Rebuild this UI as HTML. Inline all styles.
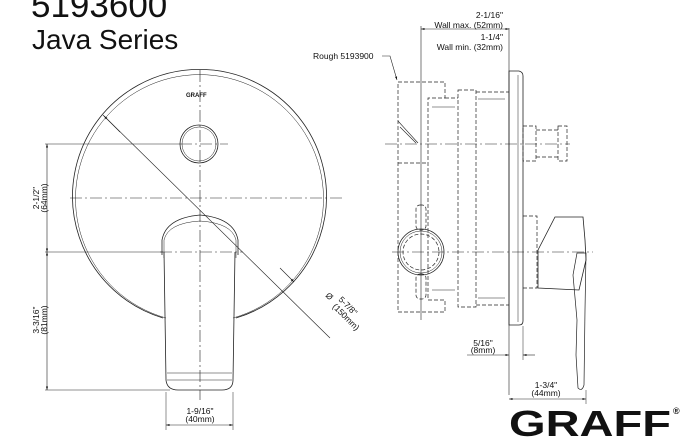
<!DOCTYPE html>
<html><head><meta charset="utf-8"><style>
html,body{margin:0;padding:0;background:#fff;width:700px;height:441px;overflow:hidden}
svg{display:block}
text{font-family:"Liberation Sans",Arial,sans-serif;fill:#111}
</style></head><body>
<svg width="700" height="441" viewBox="0 0 700 441" xmlns="http://www.w3.org/2000/svg">
<defs>
<marker id="a" viewBox="0 0 10 10" refX="10" refY="5" markerWidth="6" markerHeight="6" orient="auto-start-reverse"><path d="M0,2 L10,5 L0,8 z" fill="#111"/></marker>
</defs>
<text x="31" y="17" font-size="35">5193600</text>
<text x="32" y="49" font-size="28">Java Series</text>

<g stroke="#222" fill="none" stroke-width="0.8">
<path d="M163,318 A127,127 0 1 1 236,318"/>
<path d="M166,318 A124,124 0 1 1 233,318" stroke-width="0.5"/>
<circle cx="199" cy="144" r="19"/>
<circle cx="199" cy="144" r="17" stroke-width="0.5"/>
<g stroke-dasharray="12,3,2,3" stroke-width="0.6">
<line x1="200" y1="70" x2="200" y2="400"/>
<line x1="70" y1="198" x2="343" y2="198"/>
<line x1="180" y1="144" x2="228" y2="144"/>
<line x1="160" y1="252" x2="243" y2="252"/>
</g>
<line x1="45" y1="144" x2="180" y2="144" stroke-width="0.6"/>
<line x1="45" y1="252" x2="163" y2="252" stroke-width="0.6"/>
<line x1="45" y1="390" x2="170" y2="390" stroke-width="0.6"/>
<line x1="47" y1="144" x2="47" y2="252" stroke-width="0.6" marker-start="url(#a)" marker-end="url(#a)"/>
<line x1="47" y1="252" x2="47" y2="390" stroke-width="0.6" marker-start="url(#a)" marker-end="url(#a)"/>
<path d="M162,255 L162,240 Q166,218 200,215 Q234,218 238,240 L238,255"/>
<path d="M164,258 L164,240 Q168,223 200,221 Q232,223 236,240 L236,258" stroke-width="0.5"/>
<path d="M164,252 L166,380 Q167,390 178,390 L222,390 Q233,390 233,380 L235,252"/>
<line x1="167" y1="373" x2="232" y2="373" stroke-width="0.5"/>
<line x1="167" y1="380" x2="232" y2="380" stroke-width="0.5"/>
<line x1="166" y1="392" x2="166" y2="430" stroke-width="0.5"/>
<line x1="233" y1="392" x2="233" y2="430" stroke-width="0.5"/>
<line x1="166" y1="425" x2="233" y2="425" stroke-width="0.6" marker-start="url(#a)" marker-end="url(#a)"/>
<line x1="103" y1="115" x2="330" y2="338" stroke-width="0.6"/>
<line x1="120" y1="132" x2="104" y2="116" stroke-width="0.6" marker-end="url(#a)"/>
<line x1="280" y1="268" x2="294" y2="282" stroke-width="0.6" marker-end="url(#a)"/>

<path d="M509,71 L519,71 Q523,72 523,76 L523,321 Q523,325 519,325 L509,325 Z"/>
<line x1="518" y1="75" x2="518" y2="322" stroke-width="0.5"/>
<line x1="509" y1="28" x2="509" y2="395" stroke-width="0.6"/>
<line x1="421" y1="26" x2="421" y2="320" stroke-width="0.6"/>
<line x1="421" y1="29" x2="509" y2="29" stroke-width="0.6" marker-start="url(#a)" marker-end="url(#a)"/>
<line x1="523" y1="326" x2="523" y2="360" stroke-width="0.5"/>
<line x1="467" y1="355" x2="509" y2="355" stroke-width="0.6" marker-end="url(#a)"/>
<line x1="535" y1="355" x2="523" y2="355" stroke-width="0.6" marker-end="url(#a)"/>
<line x1="586" y1="390" x2="586" y2="404" stroke-width="0.5"/>
<line x1="509" y1="399" x2="586" y2="399" stroke-width="0.6" marker-start="url(#a)" marker-end="url(#a)"/>
<path d="M382,56 L390,56 L397,80" stroke-width="0.6" marker-end="url(#a)"/>
<g stroke-dasharray="4,2" stroke-width="0.7">
<path d="M398,82 L445,82 L445,98 L428,98 L428,300 L445,300 L445,312 L398,312 Z"/>
<rect x="458" y="90" width="18" height="217"/>
<line x1="476" y1="92" x2="509" y2="92"/>
<line x1="476" y1="305" x2="509" y2="305"/>
<line x1="445" y1="98" x2="458" y2="98"/>
<line x1="398" y1="163" x2="428" y2="163"/>
<rect x="523" y="126" width="13" height="35"/>
<line x1="536" y1="130" x2="558" y2="130"/>
<line x1="536" y1="157" x2="558" y2="157"/>
<rect x="558" y="126" width="9" height="35"/>
<path d="M523,216 L537,216 L537,288 L523,288"/>
<circle cx="421" cy="252" r="18"/>
<rect x="416" y="205" width="10" height="25" rx="4"/>
<rect x="416" y="274" width="10" height="25" rx="4"/>
</g>
<line x1="432" y1="107" x2="455" y2="107" stroke-width="0.6"/>
<line x1="432" y1="290" x2="455" y2="290" stroke-width="0.6"/>
<line x1="478" y1="99" x2="505" y2="99" stroke-width="0.6"/>
<line x1="478" y1="298" x2="505" y2="298" stroke-width="0.6"/>
<path d="M398,121 L418,143" stroke-width="0.6"/>
<path d="M400,127 L416,143" stroke-width="0.6"/>
<circle cx="421" cy="252" r="23"/>
<circle cx="421" cy="252" r="21" stroke-width="0.5"/>
<g stroke-dasharray="12,3,2,3" stroke-width="0.6">
<line x1="385" y1="144" x2="570" y2="144"/>
<line x1="392" y1="252" x2="593" y2="252"/>
</g>
<path d="M538,250 L555,217 L583,217 L585,240 L586,260 L579,290 L538,288 Z"/>
<path d="M577,253 L586,253 L585,310 L584,385 Q582,392 578,388 L576,355 L577,320 L573,275 Z" stroke-width="0.7"/>
</g>

<g font-size="8.5">
<text transform="rotate(-90 41 198)"><tspan x="41" y="196" text-anchor="middle">2-1/2"</tspan><tspan x="41" y="204" text-anchor="middle">(64mm)</tspan></text>
<text transform="rotate(-90 41 320)"><tspan x="41" y="318" text-anchor="middle">3-3/16"</tspan><tspan x="41" y="326" text-anchor="middle">(81mm)</tspan></text>
<text x="200" y="414" text-anchor="middle">1-9/16"</text>
<text x="200" y="422" text-anchor="middle">(40mm)</text>
<text transform="translate(325,296) rotate(45)">Ø</text>
<text transform="translate(338,300) rotate(45)">5-7/8"</text>
<text transform="translate(332,307) rotate(45)">(150mm)</text>
<text x="503" y="18" text-anchor="end">2-1/16"</text>
<text x="503" y="28" text-anchor="end">Wall max. (52mm)</text>
<text x="503" y="40" text-anchor="end">1-1/4"</text>
<text x="503" y="50" text-anchor="end">Wall min. (32mm)</text>
<text x="313" y="59">Rough 5193900</text>
<text x="483" y="346" text-anchor="middle">5/16"</text>
<text x="483" y="353" text-anchor="middle">(8mm)</text>
<text x="546" y="388" text-anchor="middle">1-3/4"</text>
<text x="546" y="396" text-anchor="middle">(44mm)</text>
</g>
<text x="186" y="97" font-size="6" font-weight="bold">GRAFF</text>
<text x="509" y="436" font-size="36" font-weight="bold" textLength="162" lengthAdjust="spacingAndGlyphs">GRAFF</text>
<text x="673" y="414" font-size="9" font-weight="bold">®</text>
</svg>
</body></html>
